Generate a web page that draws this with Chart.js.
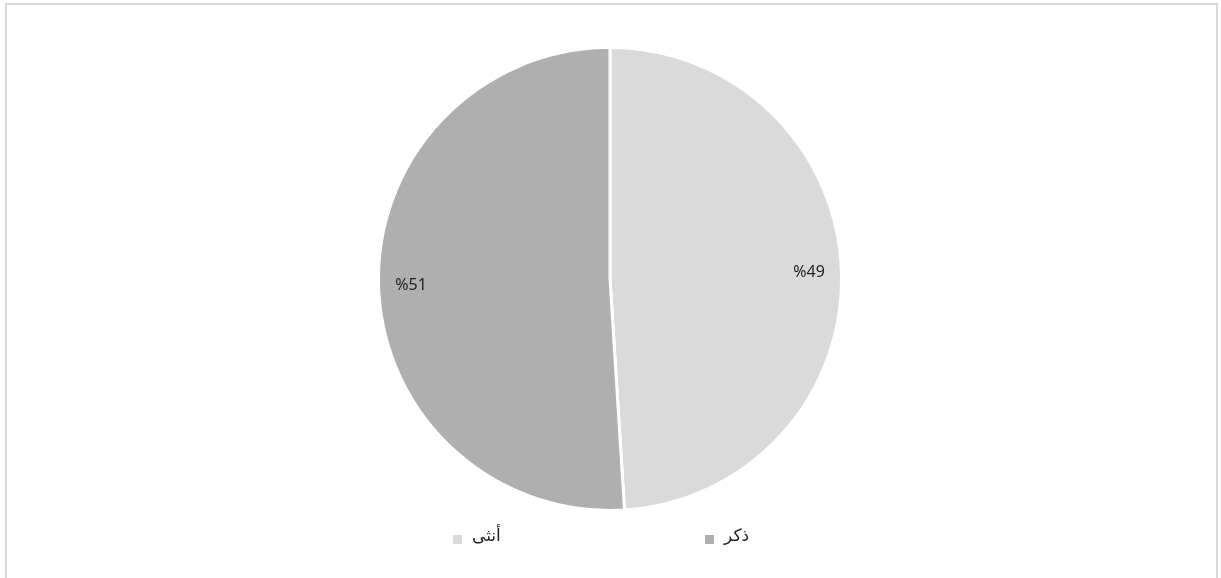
<!DOCTYPE html>
<html>
<head>
<meta charset="utf-8">
<script src="https://cdn.jsdelivr.net/npm/chart.js@4/dist/chart.umd.min.js"></script>
<style>
    html, body { margin: 0; padding: 0; background: #fff; }
    #wrap { position: relative; width: 1221px; height: 578px; overflow: hidden; }
    #frame {
        position: absolute; left: 5px; top: 3px; width: 1213px; height: 600px;
        border: 2px solid #d9d9d9; box-sizing: border-box;
    }
    canvas { position: absolute; left: 0; top: 0; }
</style>
</head>
<body>
<div id="wrap">
    <div id="frame"></div>
    <canvas id="genderChart" width="1221" height="578"></canvas>
</div>
<script>
// Gender split (percent)
const labels = ['أنثى', 'ذكر'];
const values = [49, 51];
const colors = ['#dadada', '#afafaf'];

const FONT = "'Noto Sans', 'DejaVu Sans', sans-serif";

// percent labels inside each slice, near the rim
const sliceLabels = {
    id: 'sliceLabels',
    afterDatasetsDraw(chart) {
        const ctx = chart.ctx;
        const meta = chart.getDatasetMeta(0);
        ctx.save();
        ctx.font = `16px ${FONT}`;
        ctx.fillStyle = '#1f1f1f';
        ctx.textAlign = 'center';
        ctx.textBaseline = 'middle';
        meta.data.forEach((arc, i) => {
            const mid = (arc.startAngle + arc.endAngle) / 2;
            const r = arc.outerRadius * 0.86;
            const x = arc.x + Math.cos(mid) * r;
            const y = arc.y + Math.sin(mid) * r;
            ctx.fillText('%' + values[i], x, y);
        });
        ctx.restore();
    }
};

// bottom legend, widely spaced like the original
const spreadLegend = {
    id: 'spreadLegend',
    afterDraw(chart) {
        const ctx = chart.ctx;
        const slots = [453, 705];
        const y = 539;
        ctx.save();
        ctx.font = `17px ${FONT}`;
        ctx.textBaseline = 'middle';
        ctx.textAlign = 'left';
        labels.forEach((lab, i) => {
            ctx.fillStyle = colors[i];
            ctx.fillRect(slots[i], y - 4, 9, 9);
            ctx.fillStyle = '#1f1f1f';
            ctx.fillText(lab, slots[i] + 19, y - 3);
        });
        ctx.restore();
    }
};

new Chart(document.getElementById('genderChart'), {
    type: 'pie',
    data: {
        labels: labels,
        datasets: [{
            data: values,
            backgroundColor: colors,
            borderColor: '#ffffff',
            borderWidth: 3
        }]
    },
    options: {
        responsive: false,
        animation: false,
        layout: { padding: { top: 46, bottom: 66, left: 0, right: 1 } },
        plugins: {
            legend: { display: false },
            tooltip: { enabled: false }
        }
    },
    plugins: [sliceLabels, spreadLegend]
});
</script>
</body>
</html>
